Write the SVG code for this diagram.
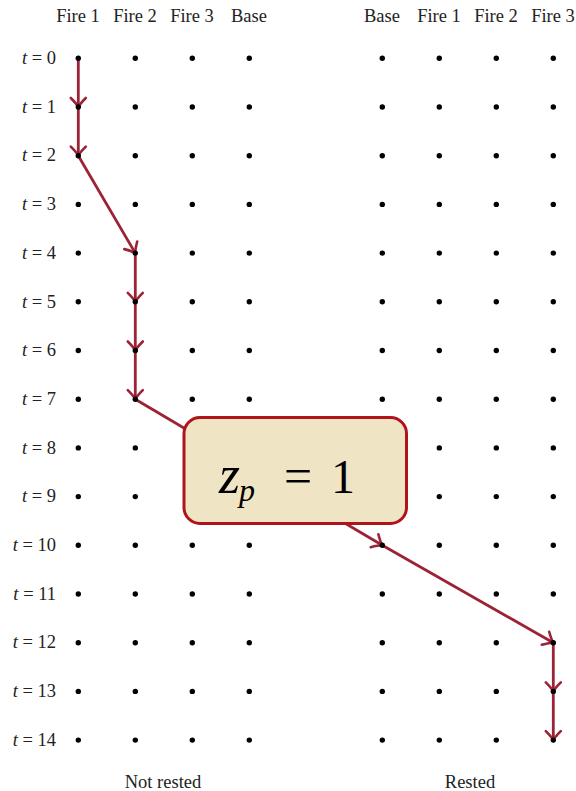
<svg xmlns="http://www.w3.org/2000/svg" width="576" height="791" viewBox="0 0 576 791">
<style>
.hdr{font-family:"Liberation Serif",serif;font-size:18.5px;fill:#222;text-anchor:middle}
.lbl{font-family:"Liberation Serif",serif;font-size:18.5px;fill:#222;text-anchor:end}
.lbl tspan.i{font-style:italic}
.dot{fill:#000}
.arr{stroke:#9B2335;stroke-width:2.8;fill:none;marker-end:url(#ah)}
.math{font-family:"Liberation Serif",serif;fill:#000}
</style>
<defs>
<marker id="ah" markerUnits="userSpaceOnUse" markerWidth="20" markerHeight="20" viewBox="-12 -10 14 20" refX="0" refY="0" orient="auto">
<path d="M-9,-7.5 Q-3,-1.5 0,0 Q-3,1.5 -9,7.5" fill="none" stroke="#9B2335" stroke-width="2.6" stroke-linecap="round"/>
</marker>
<circle id="d" r="2.7" class="dot"/>
</defs>
<rect width="576" height="791" fill="#fff"/>
<g id="headers">
<text class="hdr" x="78" y="22">Fire 1</text>
<text class="hdr" x="135" y="22">Fire 2</text>
<text class="hdr" x="192" y="22">Fire 3</text>
<text class="hdr" x="249" y="22">Base</text>
<text class="hdr" x="382" y="22">Base</text>
<text class="hdr" x="439" y="22">Fire 1</text>
<text class="hdr" x="496" y="22">Fire 2</text>
<text class="hdr" x="553" y="22">Fire 3</text>
</g>
<g id="row-labels">
<text class="lbl" x="56" y="64"><tspan class="i">t</tspan> = 0</text>
<text class="lbl" x="56" y="112.7"><tspan class="i">t</tspan> = 1</text>
<text class="lbl" x="56" y="161.4"><tspan class="i">t</tspan> = 2</text>
<text class="lbl" x="56" y="210.1"><tspan class="i">t</tspan> = 3</text>
<text class="lbl" x="56" y="258.8"><tspan class="i">t</tspan> = 4</text>
<text class="lbl" x="56" y="307.5"><tspan class="i">t</tspan> = 5</text>
<text class="lbl" x="56" y="356.2"><tspan class="i">t</tspan> = 6</text>
<text class="lbl" x="56" y="404.9"><tspan class="i">t</tspan> = 7</text>
<text class="lbl" x="56" y="453.6"><tspan class="i">t</tspan> = 8</text>
<text class="lbl" x="56" y="502.3"><tspan class="i">t</tspan> = 9</text>
<text class="lbl" x="56" y="551"><tspan class="i">t</tspan> = 10</text>
<text class="lbl" x="56" y="599.7"><tspan class="i">t</tspan> = 11</text>
<text class="lbl" x="56" y="648.4"><tspan class="i">t</tspan> = 12</text>
<text class="lbl" x="56" y="697.1"><tspan class="i">t</tspan> = 13</text>
<text class="lbl" x="56" y="745.8"><tspan class="i">t</tspan> = 14</text>
</g>
<g id="connectors">
<line class="arr" x1="78.3" y1="58.3" x2="78.3" y2="107"/>
<line class="arr" x1="78.3" y1="107" x2="78.3" y2="155.7"/>
<line class="arr" x1="78.3" y1="155.7" x2="135.3" y2="253.1"/>
<line class="arr" x1="135.3" y1="253.1" x2="135.3" y2="301.8"/>
<line class="arr" x1="135.3" y1="301.8" x2="135.3" y2="350.5"/>
<line class="arr" x1="135.3" y1="350.5" x2="135.3" y2="399.2"/>
<line class="arr" x1="135.3" y1="399.2" x2="382.3" y2="545.3"/>
<line class="arr" x1="382.3" y1="545.3" x2="553.3" y2="642.7"/>
<line class="arr" x1="553.3" y1="642.7" x2="553.3" y2="691.4"/>
<line class="arr" x1="553.3" y1="691.4" x2="553.3" y2="740.1"/>
</g>
<g id="grid-not-rested">
<g transform="translate(0,58.3)"><use href="#d" x="78.3"/><use href="#d" x="135.3"/><use href="#d" x="192.3"/><use href="#d" x="249.3"/></g>
<g transform="translate(0,107)"><use href="#d" x="78.3"/><use href="#d" x="135.3"/><use href="#d" x="192.3"/><use href="#d" x="249.3"/></g>
<g transform="translate(0,155.7)"><use href="#d" x="78.3"/><use href="#d" x="135.3"/><use href="#d" x="192.3"/><use href="#d" x="249.3"/></g>
<g transform="translate(0,204.4)"><use href="#d" x="78.3"/><use href="#d" x="135.3"/><use href="#d" x="192.3"/><use href="#d" x="249.3"/></g>
<g transform="translate(0,253.1)"><use href="#d" x="78.3"/><use href="#d" x="135.3"/><use href="#d" x="192.3"/><use href="#d" x="249.3"/></g>
<g transform="translate(0,301.8)"><use href="#d" x="78.3"/><use href="#d" x="135.3"/><use href="#d" x="192.3"/><use href="#d" x="249.3"/></g>
<g transform="translate(0,350.5)"><use href="#d" x="78.3"/><use href="#d" x="135.3"/><use href="#d" x="192.3"/><use href="#d" x="249.3"/></g>
<g transform="translate(0,399.2)"><use href="#d" x="78.3"/><use href="#d" x="135.3"/><use href="#d" x="192.3"/><use href="#d" x="249.3"/></g>
<g transform="translate(0,447.9)"><use href="#d" x="78.3"/><use href="#d" x="135.3"/><use href="#d" x="192.3"/><use href="#d" x="249.3"/></g>
<g transform="translate(0,496.6)"><use href="#d" x="78.3"/><use href="#d" x="135.3"/><use href="#d" x="192.3"/><use href="#d" x="249.3"/></g>
<g transform="translate(0,545.3)"><use href="#d" x="78.3"/><use href="#d" x="135.3"/><use href="#d" x="192.3"/><use href="#d" x="249.3"/></g>
<g transform="translate(0,594)"><use href="#d" x="78.3"/><use href="#d" x="135.3"/><use href="#d" x="192.3"/><use href="#d" x="249.3"/></g>
<g transform="translate(0,642.7)"><use href="#d" x="78.3"/><use href="#d" x="135.3"/><use href="#d" x="192.3"/><use href="#d" x="249.3"/></g>
<g transform="translate(0,691.4)"><use href="#d" x="78.3"/><use href="#d" x="135.3"/><use href="#d" x="192.3"/><use href="#d" x="249.3"/></g>
<g transform="translate(0,740.1)"><use href="#d" x="78.3"/><use href="#d" x="135.3"/><use href="#d" x="192.3"/><use href="#d" x="249.3"/></g>
</g>
<g id="grid-rested">
<g transform="translate(0,58.3)"><use href="#d" x="382.3"/><use href="#d" x="439.3"/><use href="#d" x="496.3"/><use href="#d" x="553.3"/></g>
<g transform="translate(0,107)"><use href="#d" x="382.3"/><use href="#d" x="439.3"/><use href="#d" x="496.3"/><use href="#d" x="553.3"/></g>
<g transform="translate(0,155.7)"><use href="#d" x="382.3"/><use href="#d" x="439.3"/><use href="#d" x="496.3"/><use href="#d" x="553.3"/></g>
<g transform="translate(0,204.4)"><use href="#d" x="382.3"/><use href="#d" x="439.3"/><use href="#d" x="496.3"/><use href="#d" x="553.3"/></g>
<g transform="translate(0,253.1)"><use href="#d" x="382.3"/><use href="#d" x="439.3"/><use href="#d" x="496.3"/><use href="#d" x="553.3"/></g>
<g transform="translate(0,301.8)"><use href="#d" x="382.3"/><use href="#d" x="439.3"/><use href="#d" x="496.3"/><use href="#d" x="553.3"/></g>
<g transform="translate(0,350.5)"><use href="#d" x="382.3"/><use href="#d" x="439.3"/><use href="#d" x="496.3"/><use href="#d" x="553.3"/></g>
<g transform="translate(0,399.2)"><use href="#d" x="382.3"/><use href="#d" x="439.3"/><use href="#d" x="496.3"/><use href="#d" x="553.3"/></g>
<g transform="translate(0,447.9)"><use href="#d" x="382.3"/><use href="#d" x="439.3"/><use href="#d" x="496.3"/><use href="#d" x="553.3"/></g>
<g transform="translate(0,496.6)"><use href="#d" x="382.3"/><use href="#d" x="439.3"/><use href="#d" x="496.3"/><use href="#d" x="553.3"/></g>
<g transform="translate(0,545.3)"><use href="#d" x="382.3"/><use href="#d" x="439.3"/><use href="#d" x="496.3"/><use href="#d" x="553.3"/></g>
<g transform="translate(0,594)"><use href="#d" x="382.3"/><use href="#d" x="439.3"/><use href="#d" x="496.3"/><use href="#d" x="553.3"/></g>
<g transform="translate(0,642.7)"><use href="#d" x="382.3"/><use href="#d" x="439.3"/><use href="#d" x="496.3"/><use href="#d" x="553.3"/></g>
<g transform="translate(0,691.4)"><use href="#d" x="382.3"/><use href="#d" x="439.3"/><use href="#d" x="496.3"/><use href="#d" x="553.3"/></g>
<g transform="translate(0,740.1)"><use href="#d" x="382.3"/><use href="#d" x="439.3"/><use href="#d" x="496.3"/><use href="#d" x="553.3"/></g>
</g>
<g id="footer">
<text class="hdr" x="163" y="788">Not rested</text>
<text class="hdr" x="470" y="788">Rested</text>
</g>
<g id="zp-box">
<rect x="184" y="417.5" width="222.5" height="106" rx="16" ry="16" fill="#EFE5C4" stroke="#B01319" stroke-width="3"/>
<text class="math" x="219" y="493" font-style="italic"><tspan font-size="54">z</tspan><tspan font-size="32" dx="-1" dy="8">p</tspan></text>
<text class="math" x="298" y="493" font-size="50" text-anchor="middle">=</text>
<text class="math" x="343" y="493" font-size="48" text-anchor="middle">1</text>
</g>
</svg>
